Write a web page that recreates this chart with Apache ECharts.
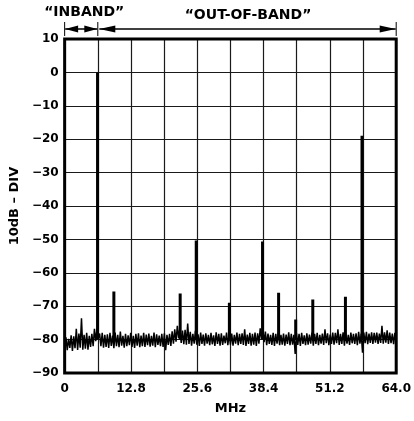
<!DOCTYPE html>
<html>
<head>
<meta charset="utf-8">
<script src="https://cdn.jsdelivr.net/npm/echarts@6/dist/echarts.min.js"></script>
<style>
html,body{margin:0;padding:0;background:#fff;}
#c{width:414px;height:421px;}
</style>
</head>
<body>
<div id="c"></div>
<script>
// ---- data ----
const xTickLabels = ['0', '12.8', '25.6', '38.4', '51.2', '64.0'];
const yTickLabels = ['10', '0', '\u221210', '\u221220', '\u221230', '\u221240', '\u221250', '\u221260', '\u221270', '\u221280', '\u221290'];
const noiseStartMHz = 0;
const noiseStepMHz = 0.25;
const noiseDb = [
  -82.8,-79.3,-83.2,-79.8,-82.5,-78.7,-83.4,-79.0,-82.6,-76.8,-83.1,-78.2,-82.4,-73.6,-83.0,-78.6,
  -82.7,-78.0,-83.0,-78.9,-82.2,-78.3,-82.0,-76.8,-80.5,-76.6,-79.5,-78.2,-82.0,-78.0,-82.4,-78.6,
  -82.2,-78.4,-82.5,-78.0,-81.9,-78.8,-82.6,-77.9,-82.0,-78.6,-82.3,-77.6,-81.8,-78.9,-82.4,-78.3,
  -82.0,-78.7,-81.7,-78.0,-82.2,-78.9,-82.5,-78.3,-81.8,-78.1,-82.3,-78.8,-82.0,-78.0,-82.2,-78.5,
  -81.7,-78.2,-82.1,-78.9,-81.8,-77.9,-82.3,-78.4,-81.6,-78.8,-82.0,-78.3,-82.2,-78.1,-83.2,-78.6,
  -81.6,-78.3,-81.9,-77.5,-81.2,-76.9,-80.6,-75.9,-79.6,-76.5,-81.0,-77.3,-81.4,-77.1,-81.5,-75.2,
  -81.3,-77.7,-81.8,-78.3,-81.2,-77.4,-81.5,-78.4,-81.9,-77.9,-81.3,-78.5,-81.8,-78.1,-81.2,-78.6,
  -81.7,-78.0,-81.4,-78.7,-81.9,-77.8,-81.3,-78.3,-81.8,-78.1,-81.6,-78.8,-81.1,-77.9,-81.7,-78.3,
  -81.5,-78.2,-81.8,-78.6,-81.2,-77.9,-81.7,-78.3,-81.3,-78.1,-81.6,-76.9,-81.9,-78.5,-81.3,-78.0,
  -81.8,-78.3,-81.5,-77.9,-81.9,-78.1,-81.2,-76.6,-79.8,-76.8,-80.8,-77.6,-81.7,-78.2,-81.3,-78.6,
  -81.6,-78.0,-81.9,-78.3,-81.2,-77.9,-81.7,-78.6,-81.5,-78.2,-81.8,-78.5,-81.3,-77.8,-81.7,-78.3,
  -81.5,-78.6,-84.3,-78.1,-81.6,-78.3,-81.9,-78.0,-81.3,-78.7,-81.7,-78.1,-81.5,-78.5,-81.2,-77.9,
  -81.8,-78.3,-81.3,-78.0,-81.7,-78.6,-81.2,-78.2,-81.6,-76.9,-81.1,-78.1,-81.7,-78.5,-81.3,-77.9,
  -81.5,-78.0,-81.1,-76.9,-81.6,-78.3,-81.3,-77.8,-81.8,-78.2,-81.2,-78.6,-81.6,-77.9,-81.1,-78.3,
  -81.3,-78.1,-81.7,-77.7,-81.2,-78.2,-83.9,-77.9,-81.1,-77.7,-81.4,-78.2,-81.0,-77.8,-81.3,-78.0,
  -80.9,-77.9,-81.3,-78.2,-81.0,-75.9,-81.2,-77.8,-80.9,-77.2,-81.3,-77.9,-81.1,-78.2,-81.4,-78.0,
  -81.2
];
const spikeMHz = [6.35, 9.5, 22.3, 25.4, 31.8, 38.2, 41.3, 44.6, 47.9, 54.2, 57.4];
const spikePeakDb = [0, -65.6, -66.2, -50.3, -69.0, -50.6, -66.0, -74.0, -68.0, -67.2, -19.0];
const spikeBaseDb = -80;
const inbandEdgeMHz = 6.4;
const bandLabels = ['\u201CINBAND\u201D', '\u201COUT-OF-BAND\u201D'];

// ---- chart ----
const FONT = '"DejaVu Sans", Verdana, sans-serif';
const chart = echarts.init(document.getElementById('c'), null, {renderer: 'canvas'});

const noiseData = noiseDb.map((v, i) => [noiseStartMHz + i * noiseStepMHz, v]);
const spikeSeries = spikeMHz.map((f, i) => ({
  type: 'line',
  data: [[f, spikeBaseDb], [f, spikePeakDb[i]]],
  symbol: 'none',
  silent: true,
  lineStyle: {color: '#000', width: 3, cap: 'butt'},
  z: 3
}));

chart.setOption({
  animation: false,
  backgroundColor: '#fff',
  grid: {left: 64, right: 14, top: 39, bottom: 48, show: true, borderColor: '#000', borderWidth: 3, backgroundColor: 'transparent', z: 5},
  xAxis: {
    type: 'value', min: 0, max: 64, interval: 6.4,
    name: 'MHz', nameLocation: 'middle', nameGap: 29,
    nameTextStyle: {fontFamily: FONT, fontWeight: 'bold', fontSize: 13, color: '#000'},
    axisLine: {show: false}, axisTick: {show: false},
    axisLabel: {
      fontFamily: FONT, fontWeight: 'bold', fontSize: 12, color: '#000', margin: 10,
      showMinLabel: true, showMaxLabel: true,
      formatter: v => { const k = Math.round(v / 6.4); return k % 2 === 0 ? xTickLabels[k / 2] : ''; }
    },
    splitLine: {show: true, lineStyle: {color: '#1a1a1a', width: 1.2}}
  },
  yAxis: {
    type: 'value', min: -90, max: 10, interval: 10,
    name: '10dB \u2013 DIV', nameLocation: 'middle', nameGap: 41, nameRotate: 90,
    nameTextStyle: {fontFamily: FONT, fontWeight: 'bold', fontSize: 13, color: '#000'},
    axisLine: {show: false}, axisTick: {show: false},
    axisLabel: {
      fontFamily: FONT, fontWeight: 'bold', fontSize: 12, color: '#000', margin: 6,
      formatter: v => yTickLabels[Math.round((10 - v) / 10)]
    },
    splitLine: {show: true, lineStyle: {color: '#1a1a1a', width: 1.2}}
  },
  series: [{
    type: 'line', data: noiseData, symbol: 'none', silent: true,
    lineStyle: {color: '#000', width: 1.5}, z: 2
  }].concat(spikeSeries)
});

// annotation arrows above the plot
const px = v => chart.convertToPixel({xAxisIndex: 0}, v);
const x0 = px(0), x1 = px(inbandEdgeMHz), x2 = px(64);
const ay = 29, aw = 3.5;
function arrowPair(a, b, ah) {
  return [
    {type: 'line', shape: {x1: a, y1: ay, x2: b, y2: ay}, style: {stroke: '#000', lineWidth: 1.5}},
    {type: 'polygon', shape: {points: [[a, ay], [a + ah, ay - aw], [a + ah, ay + aw]]}, style: {fill: '#000'}},
    {type: 'polygon', shape: {points: [[b, ay], [b - ah, ay - aw], [b - ah, ay + aw]]}, style: {fill: '#000'}}
  ];
}
const g = [];
[x0, x1, x2].forEach(x => g.push({type: 'line', shape: {x1: x, y1: 22, x2: x, y2: 36}, style: {stroke: '#000', lineWidth: 1}}));
arrowPair(x0 + 0.5, x1 - 0.5, 13).forEach(e => g.push(e));
arrowPair(x1 + 1.5, x2 - 0.5, 16).forEach(e => g.push(e));
g.push({type: 'text', x: (x0 + x1) / 2 + 3, y: 12, style: {text: bandLabels[0], font: 'bold 14px ' + FONT, fill: '#000', align: 'center', verticalAlign: 'middle'}});
g.push({type: 'text', x: (x1 + x2) / 2 + 1, y: 15, style: {text: bandLabels[1], font: 'bold 14px ' + FONT, fill: '#000', align: 'center', verticalAlign: 'middle'}});
chart.setOption({graphic: g});
</script>
</body>
</html>
